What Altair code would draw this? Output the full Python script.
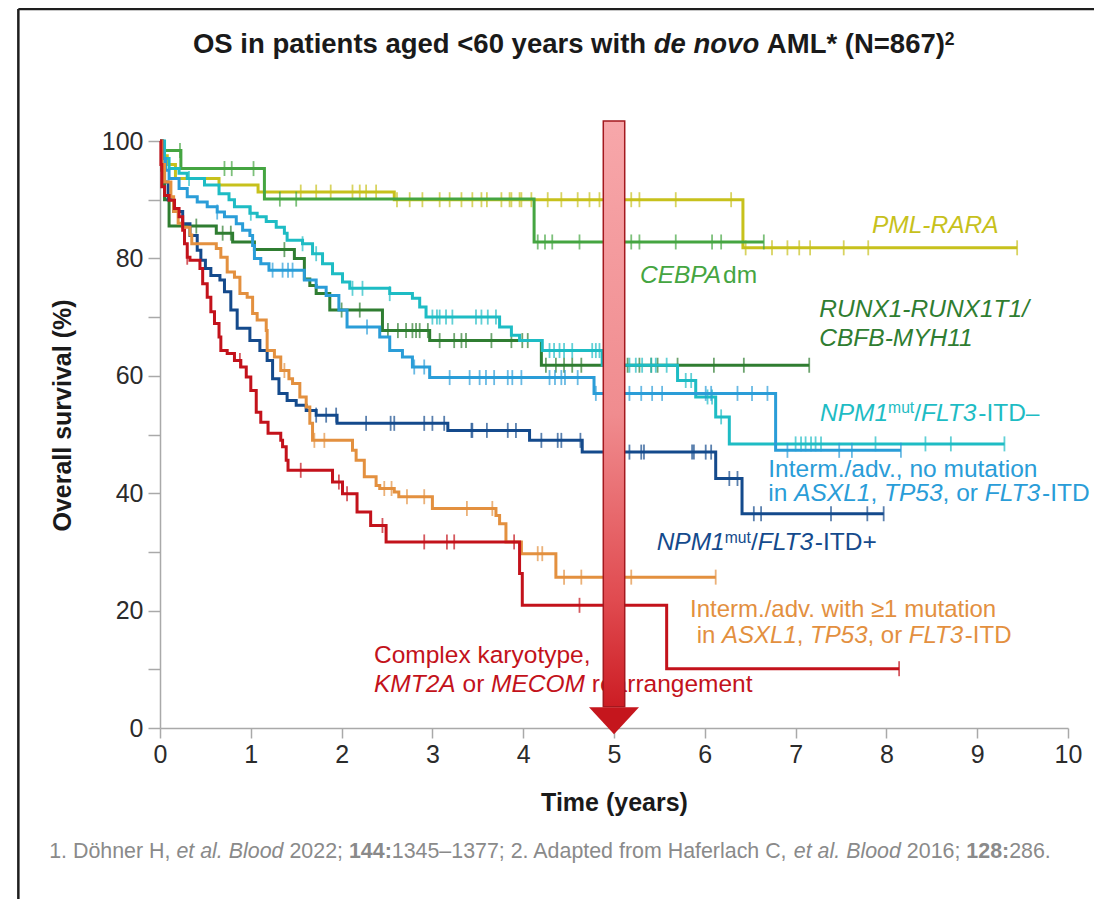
import altair as alt
import pandas as pd

# ---------------- data ----------------
# step times (years) and survival (%) after each step; last point = end of follow-up
PML_T = [0, 0.03, 0.08, 0.17, 0.65, 1.08, 2.58, 6.42, 9.44]
PML_S = [100, 97.5, 96.0, 93.6, 92.5, 91.3, 90.0, 81.8, 81.8]
PML_C = [1.55, 1.72, 1.88, 2.12, 2.20, 2.27, 2.38, 2.61, 2.75, 2.89, 3.08, 3.19, 3.32, 3.44,
         3.54, 3.60, 3.76, 3.85, 3.87, 3.96, 3.98, 4.09, 4.27, 4.42, 4.60, 4.73, 4.84, 5.19,
         5.28, 5.68, 6.29, 6.45, 6.74, 6.91, 7.04, 7.16, 7.53, 7.80, 9.44]

CEB_T = [0, 0.02, 0.23, 1.15, 4.12, 6.65]
CEB_S = [100, 98.4, 95.3, 90.1, 82.8, 82.8]
CEB_C = [0.22, 0.71, 0.79, 1.03, 1.32, 1.50, 4.16, 4.24, 4.32, 4.62, 5.19, 5.28, 5.68,
         6.08, 6.18, 6.65]

RUN_T = [0, 0.02, 0.05, 0.10, 0.62, 0.80, 1.04, 1.48, 1.59, 1.65, 1.72, 1.87, 2.45, 2.97,
         4.20, 7.15]
RUN_S = [100, 95.0, 90.0, 85.5, 84.3, 82.8, 81.5, 80.0, 76.5, 75.4, 74.0, 71.2, 67.7, 66.0,
         61.8, 61.8]
RUN_C = [0.40, 0.69, 0.78, 1.37, 2.00, 2.20, 2.51, 2.62, 2.71, 2.78, 2.82, 2.86, 2.95, 3.08,
         3.24, 3.32, 3.37, 3.65, 3.87, 3.99, 4.05, 4.25, 4.36, 4.45, 4.54, 4.64, 5.15, 5.28,
         5.41, 5.48, 5.70, 6.10, 6.43, 7.15]

TQ_T = [0, 0.05, 0.10, 0.21, 0.30, 0.49, 0.65, 0.76, 0.82, 0.99, 1.07, 1.17, 1.28, 1.37,
        1.40, 1.57, 1.68, 1.79, 1.90, 2.01, 2.09, 2.53, 2.78, 2.86, 2.93, 3.74, 3.87, 3.96,
        4.21, 4.87, 5.70, 5.90, 6.12, 6.27, 9.30]
TQ_S = [100, 97.0, 95.3, 94.5, 93.6, 92.5, 91.0, 90.0, 88.8, 87.7, 87.1, 86.3, 85.3, 84.3,
        83.1, 82.5, 80.8, 79.1, 77.4, 76.0, 74.9, 74.0, 73.2, 71.7, 70.0, 68.3, 66.9, 66.0,
        64.3, 61.8, 59.2, 56.4, 53.0, 48.4, 48.4]
TQ_C = [0.32, 1.00, 1.57, 1.72, 2.12, 2.23, 2.53, 3.00, 3.05, 3.08, 3.15, 3.22, 3.48, 3.54,
        3.61, 3.70, 4.29, 4.34, 4.40, 4.45, 4.54, 4.76, 4.80, 4.84, 5.17, 5.24, 5.31, 5.41,
        5.46, 5.58, 5.79, 5.85, 6.03, 6.08, 6.18, 7.00, 7.06, 7.11, 7.17, 7.22, 7.28, 7.88,
        8.43, 8.71, 9.30]

LB_T = [0, 0.03, 0.06, 0.10, 0.21, 0.30, 0.41, 0.52, 0.63, 0.71, 0.84, 0.91, 0.99, 1.02,
        1.04, 1.11, 1.20, 1.59, 1.72, 1.83, 1.97, 2.06, 2.42, 2.53, 2.67, 2.78, 2.97, 4.78,
        6.78, 8.16]
LB_S = [100, 97.0, 95.0, 93.6, 91.9, 90.5, 89.6, 88.8, 87.9, 87.1, 85.9, 84.8, 83.9, 82.2,
        80.0, 79.1, 78.0, 76.3, 75.1, 73.7, 71.2, 68.3, 66.6, 64.3, 63.2, 61.5, 59.7, 57.0,
        47.3, 47.3]
LB_C = [0.63, 1.24, 1.35, 1.41, 1.46, 2.28, 2.80, 2.91, 3.19, 3.41, 3.52, 3.59, 3.68, 3.83,
        3.88, 3.98, 4.29, 4.35, 4.42, 4.46, 4.60, 4.80, 5.17, 5.30, 5.42, 5.53, 6.01, 6.07,
        6.36, 6.52, 6.69, 6.91, 7.48, 7.62, 8.16]

DB_T = [0, 0.02, 0.05, 0.09, 0.15, 0.25, 0.33, 0.41, 0.45, 0.50, 0.56, 0.66, 0.71, 0.78,
        0.85, 0.99, 1.10, 1.18, 1.24, 1.31, 1.40, 1.50, 1.61, 1.72, 1.95, 3.17, 4.07, 4.65,
        6.12, 6.41, 7.97]
DB_S = [100, 96.0, 93.0, 90.0, 88.0, 85.9, 83.9, 81.4, 79.7, 78.3, 77.1, 76.3, 74.3, 71.2,
        68.1, 66.0, 64.3, 62.6, 59.5, 57.0, 55.8, 55.0, 54.1, 53.3, 51.9, 50.7, 49.0, 47.0,
        42.5, 36.5, 36.5]
DB_C = [1.72, 1.83, 1.94, 2.27, 2.54, 2.58, 2.91, 3.00, 3.13, 3.43, 3.44, 3.60, 3.83, 3.92,
        4.20, 4.38, 4.42, 4.63, 5.17, 5.30, 5.33, 5.86, 5.88, 6.01, 6.07, 6.27, 6.36, 6.54,
        6.62, 7.39, 7.79, 7.97]

OR_T = [0, 0.02, 0.05, 0.12, 0.15, 0.20, 0.25, 0.33, 0.35, 0.62, 0.67, 0.74, 0.82, 0.88,
        0.96, 1.02, 1.07, 1.17, 1.18, 1.26, 1.33, 1.42, 1.46, 1.54, 1.61, 1.65, 1.68, 2.12,
        2.16, 2.25, 2.38, 2.42, 2.58, 2.63, 3.00, 3.70, 3.74, 3.81, 3.98, 4.36, 6.12]
OR_S = [100, 96.0, 93.0, 90.5, 88.0, 86.0, 85.3, 84.0, 82.5, 81.7, 80.2, 77.7, 76.8, 74.0,
        73.4, 70.6, 69.5, 67.7, 64.3, 63.2, 60.9, 59.5, 58.7, 56.4, 54.7, 51.9, 49.0, 47.3,
        45.6, 42.8, 41.3, 40.8, 40.2, 39.4, 37.4, 36.2, 34.8, 31.7, 29.7, 25.7, 25.7]
OR_C = [1.37, 1.70, 1.81, 2.47, 2.55, 2.72, 2.91, 3.38, 3.66, 4.16, 4.21, 4.45, 4.64, 5.19,
        6.12]

RD_T = [0, 0.01, 0.02, 0.05, 0.10, 0.16, 0.21, 0.25, 0.27, 0.30, 0.33, 0.44, 0.47, 0.52,
        0.56, 0.60, 0.65, 0.67, 0.74, 0.82, 0.89, 0.95, 1.00, 1.06, 1.11, 1.19, 1.33, 1.35,
        1.39, 1.41, 1.90, 2.01, 2.17, 2.32, 2.49, 3.96, 3.99, 5.58, 8.14]
RD_S = [100, 96.0, 92.2, 90.7, 89.9, 88.5, 87.1, 84.8, 82.5, 80.2, 79.7, 78.3, 75.7, 73.4,
        70.9, 68.9, 66.6, 64.3, 63.8, 62.6, 61.5, 59.8, 57.5, 53.8, 52.1, 50.2, 49.0, 47.9,
        45.6, 43.9, 41.9, 39.9, 36.8, 34.5, 31.7, 26.3, 20.9, 10.1, 10.1]
RD_C = [0.30, 0.88, 1.55, 1.97, 2.06, 2.45, 2.91, 3.16, 3.24, 3.90, 4.62, 8.14]

NAMES = ["PML-RARA", "CEBPAdm", "RUNX1-RUNX1T1/CBFB-MYH11", "NPM1mut/FLT3-ITD-",
         "Interm./adv., no mutation", "NPM1mut/FLT3-ITD+",
         "Interm./adv. with >=1 mutation", "Complex karyotype, KMT2A or MECOM"]
COLORS = ["#c7c11c", "#45a541", "#2f7d31", "#1ebcc4", "#2a9dd8", "#144a8c", "#e3903f",
          "#c3121b"]
TIMES = [PML_T, CEB_T, RUN_T, TQ_T, LB_T, DB_T, OR_T, RD_T]
SURVS = [PML_S, CEB_S, RUN_S, TQ_S, LB_S, DB_S, OR_S, RD_S]
CENS = [PML_C, CEB_C, RUN_C, TQ_C, LB_C, DB_C, OR_C, RD_C]

X_TICKS = list(range(0, 11))
Y_TICKS = list(range(0, 101, 10))
ARROW_YEAR = 5

# ---------------- text ----------------
TITLE = [("OS in patients aged <60 years with ", "b"), ("de novo", "bi"),
         (" AML* (N=867)", "b"), ("2", "bsup")]
FOOT = [("1. Döhner H, ", "r"), ("et al.", "i"), (" ", "r"), ("Blood", "i"),
        (" 2022; ", "r"), ("144:", "b"), ("1345–1377; 2. Adapted from Haferlach C, ", "r"),
        ("et al.", "i"), (" ", "r"), ("Blood", "i"), (" 2016; ", "r"), ("128:", "b"),
        ("286.", "r")]
GENES_LINE = [("in ", "r"), ("ASXL1", "i"), (", ", "r"), ("TP53", "i"), (", or ", "r"),
              ("FLT3", "i"), ("-ITD", "r")]

# (segments, anchor year, anchor %, font px, colour, anchor mode)
LABELS = [
    (TITLE, 0.363, 115.0, 27.5, "#1a1a1a", "left"),
    (FOOT, 4.295, -22.15, 21.4, "#8a8a8a", "center"),
    ([("PML-RARA", "i")], 7.841, 84.33, 24.5, COLORS[0], "left"),
    ([("CEBPA", "i"), ("dm", "r")], 5.286, 75.76, 24.5, COLORS[1], "left"),
    ([("RUNX1-RUNX1T1/", "i")], 7.261, 70.07, 24.5, COLORS[2], "left"),
    ([("CBFB-MYH11", "i")], 7.261, 65.08, 24.5, COLORS[2], "left"),
    ([("NPM1", "i"), ("mut", "sup"), ("/", "r"), ("FLT3", "i"), ("-ITD–", "r")],
     7.269, 52.35, 24.5, COLORS[3], "left"),
    ([("Interm./adv., no mutation", "r")], 6.699, 42.81, 24.5, COLORS[4], "left"),
    (GENES_LINE, 6.699, 38.67, 24.5, COLORS[4], "left"),
    ([("NPM1", "i"), ("mut", "sup"), ("/", "r"), ("FLT3", "i"), ("-ITD+", "r")],
     5.470, 30.24, 24.5, COLORS[5], "left"),
    ([("Interm./adv. with ≥1 mutation", "r")], 5.837, 18.85, 24.0, COLORS[6], "left"),
    (GENES_LINE, 5.911, 14.45, 24.0, COLORS[6], "left"),
    ([("Complex karyotype,", "r")], 2.357, 11.02, 24.5, COLORS[7], "left"),
    ([("KMT2A", "i"), (" or ", "r"), ("MECOM", "i"), (" rearrangement", "r")],
     2.357, 6.18, 24.5, COLORS[7], "left"),
]

# ---------------- layout ----------------
W, H = 908, 587
PX_T = W / 10.0
PX_S = H / 100.0
FONT = "Liberation Sans"
AX = "#a9a9a9"

UP = "ABCDEFGHIJKLMNOPQRSTUVWXYZ"
LO = "abcdefghijklmnopqrstuvwxyz"
REG = dict(zip(UP, [667, 667, 722, 722, 667, 611, 778, 722, 278, 500, 667, 556, 833, 722,
                    778, 667, 778, 722, 667, 611, 722, 667, 944, 667, 667, 611]))
REG.update(zip(LO, [556, 556, 500, 556, 556, 278, 556, 556, 222, 222, 500, 222, 833, 556,
                    556, 556, 556, 333, 500, 278, 556, 500, 722, 500, 500, 500]))
REG.update({d: 556 for d in "0123456789"})
REG.update({" ": 278, ".": 278, ",": 278, ";": 278, ":": 278, "-": 333, "–": 556, "/": 278,
            "+": 584, "≥": 549, "*": 389, "(": 333, ")": 333, "<": 584, "=": 584, "%": 889,
            "ö": 556})
BOLD = dict(zip(UP, [722, 722, 722, 722, 667, 611, 778, 722, 278, 556, 722, 611, 833, 722,
                     778, 667, 778, 722, 667, 611, 722, 667, 944, 667, 667, 611]))
BOLD.update(zip(LO, [556, 611, 556, 611, 556, 333, 611, 611, 278, 278, 556, 278, 889, 611,
                     611, 611, 611, 389, 556, 333, 611, 556, 778, 556, 556, 500]))
BOLD.update({d: 556 for d in "0123456789"})
BOLD.update({" ": 278, ".": 278, ",": 278, ";": 333, ":": 333, "-": 333, "–": 556, "/": 278,
             "+": 584, "*": 389, "(": 333, ")": 333, "<": 584, "=": 584, "%": 889})


def twidth(s, bold, size):
    tb = BOLD if bold else REG
    return sum(tb.get(ch, 556) for ch in s) * size / 1000.0


def layout(segs, ax, ay, size, color, mode):
    items = []
    for txt, st in segs:
        sup = st.endswith("sup")
        bold = st.startswith("b")
        sz = size * 0.64 if sup else size
        items.append((txt, st, sup, bold, sz, twidth(txt, bold, sz)))
    total = sum(i[5] for i in items)
    off = -total / 2 if mode == "center" else 0.0
    rows = []
    for txt, st, sup, bold, sz, w in items:
        lead = len(txt) - len(txt.lstrip(" "))
        core = txt.strip(" ")
        if core:
            key = ("b" if bold else "r") if sup else st
            rise = size * 0.30 if sup else 0.0
            rows.append({"x": ax + (off + lead * twidth(" ", bold, sz)) / PX_T,
                         "y": ay + rise / PX_S, "text": core, "color": color,
                         "size": sz, "style": key})
        off += w
    return rows


def step_value(ts, ss, c):
    v = ss[0]
    for t, s in zip(ts, ss):
        if t <= c + 1e-9:
            v = s
    return v


xs = alt.Scale(domain=[0, 10], nice=False, zero=False)
ys = alt.Scale(domain=[0, 100], nice=False, zero=False)

x_axis = alt.Axis(values=X_TICKS, title="Time (years)", grid=False, tickSize=10, tickWidth=1.5,
                  tickColor=AX, domainColor=AX, domainWidth=1.5, labelFont=FONT,
                  labelFontSize=25, labelColor="#2b2b2b", labelPadding=4, labelFlush=False,
                  labelOverlap=False, titleFont=FONT, titleFontSize=25,
                  titleFontWeight="bold", titleColor="#1a1a1a", titleY=82,
                  titleBaseline="alphabetic")
y_axis = alt.Axis(values=Y_TICKS, labelExpr="datum.value % 20 === 0 ? datum.label : ''",
                  title="Overall survival (%)", grid=False, tickSize=12, tickWidth=1.5,
                  tickColor=AX, domainColor=AX, domainWidth=1.5, labelFont=FONT,
                  labelFontSize=25, labelColor="#2b2b2b", labelPadding=5, labelFlush=False,
                  labelOverlap=False, titleFont=FONT, titleFontSize=25,
                  titleFontWeight="bold", titleColor="#1a1a1a", titleX=-90, titleY=274,
                  titleAlign="center", titleBaseline="alphabetic", titleAngle=270)

# same encoding (and axis) on every layer so the merged axes stay visible
XA = alt.X("x:Q", scale=xs, axis=x_axis)
YA = alt.Y("y:Q", scale=ys, axis=y_axis)

layers = []

# slide frame (top and left edges)
frame_top = pd.DataFrame({"x": [-1.56], "x2": [10.5], "y": [122.5]})
frame_left = pd.DataFrame({"x": [-1.56], "y": [122.5], "y2": [-31.0]})
layers.append(alt.Chart(frame_top).mark_rule(color="#1e1e1e", strokeWidth=2.5).encode(
    x=XA, x2="x2:Q", y=YA))
layers.append(alt.Chart(frame_left).mark_rule(color="#1e1e1e", strokeWidth=2.5).encode(
    x=XA, y=YA, y2="y2:Q"))

for name, col, ts, ss, cs in zip(NAMES, COLORS, TIMES, SURVS, CENS):
    ldf = pd.DataFrame({"x": ts, "y": ss, "series": name})
    layers.append(alt.Chart(ldf).mark_line(interpolate="step-after", color=col,
                                           strokeWidth=3).encode(x=XA, y=YA))
    cdf = pd.DataFrame({"x": cs, "y": [step_value(ts, ss, c) for c in cs], "series": name})
    layers.append(alt.Chart(cdf).mark_tick(orient="vertical", color=col, size=15,
                                           thickness=1.8).encode(x=XA, y=YA))

rows = []
for segs, ax, ay, size, color, mode in LABELS:
    rows += layout(segs, ax, ay, size, color, mode)
tdf = pd.DataFrame(rows)
STYLES = {"r": ("normal", "normal"), "i": ("italic", "normal"), "b": ("normal", "bold"),
          "bi": ("italic", "bold")}
for key, (fs, fw) in STYLES.items():
    sub = tdf[tdf["style"] == key]
    if len(sub):
        layers.append(alt.Chart(sub).mark_text(align="left", baseline="alphabetic", font=FONT,
                                               fontStyle=fs, fontWeight=fw).encode(
            x=XA, y=YA, text="text:N", color=alt.Color("color:N", scale=None),
            size=alt.Size("size:Q", scale=None)))

# arrow at 5 years
bar_df = pd.DataFrame({"x": [ARROW_YEAR - 0.118], "x2": [ARROW_YEAR + 0.118],
                       "y": [103.4], "y2": [3.6]})
grad = {"gradient": "linear", "x1": 0, "y1": 0, "x2": 0, "y2": 1,
        "stops": [{"offset": 0, "color": "#f7a7aa"}, {"offset": 0.5, "color": "#f08c8f"},
                  {"offset": 0.82, "color": "#e04a4f"}, {"offset": 1, "color": "#cc1d24"}]}
layers.append(alt.Chart(bar_df).mark_rect(fill=grad, stroke="#a3181e", strokeWidth=1.5).encode(
    x=XA, x2="x2:Q", y=YA, y2="y2:Q"))
head_df = pd.DataFrame({"x": [ARROW_YEAR], "y": [1.25]})
layers.append(alt.Chart(head_df).mark_point(shape="M-1,-0.54L1,-0.54L0,0.54Z", filled=True,
                                            color="#c5161d", size=2500, opacity=1,
                                            strokeWidth=0).encode(x=XA, y=YA))

chart = alt.layer(*layers).properties(
    width=W, height=H,
    padding={"left": 152, "top": 133, "right": 26, "bottom": 171},
    autosize=alt.AutoSizeParams(type="none"),
    background="white",
).configure_view(stroke=None)

chart.save("out.html", embed_options={"renderer": "svg", "actions": False})
